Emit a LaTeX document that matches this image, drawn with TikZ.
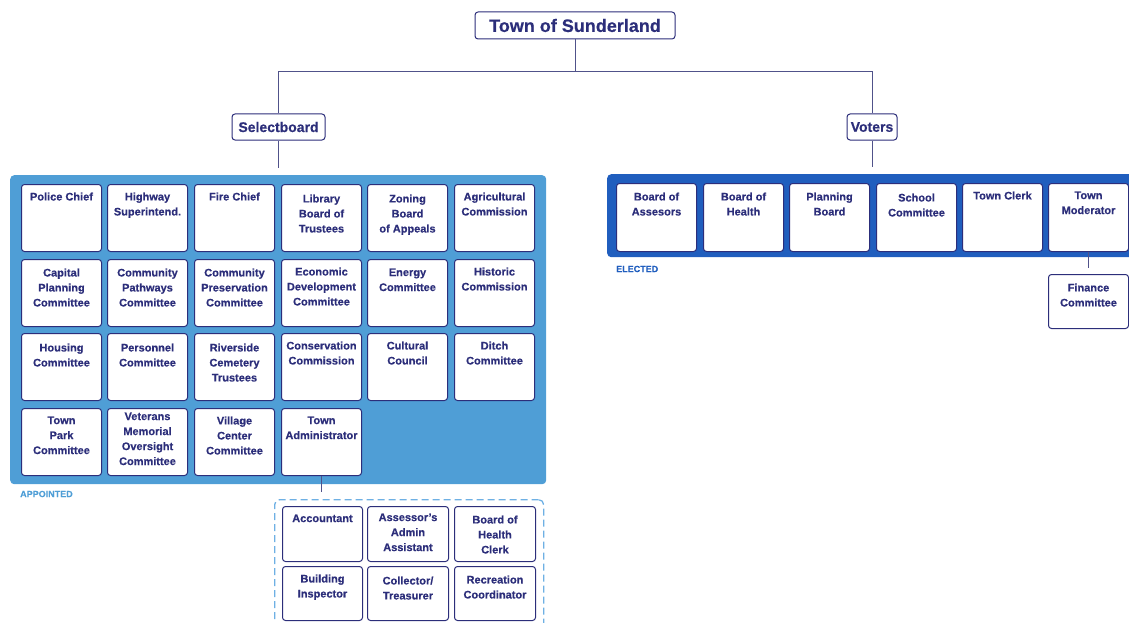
\documentclass[tikz,border=0pt]{standalone}
\usepackage{fontspec}
\setmainfont{Liberation Sans}[BoldFeatures={FakeBold=0.4}]
\definecolor{navy}{RGB}{44,46,122}
\definecolor{linegray}{RGB}{80,82,138}
\definecolor{appblue}{RGB}{79,158,214}
\definecolor{elecblue}{RGB}{32,94,190}
\definecolor{dashblue}{RGB}{110,176,228}

% Cell contents: fixed-size parbox with top-aligned, centred lines
\newcommand{\cellbox}[4][8pt]{\parbox[c][#3][t]{#2}{\centering\vspace*{#1}#4\par}}

\tikzset{
  cell/.style={draw=navy, line width=1pt, fill=white, rounded corners=3pt,
    inner sep=0pt, anchor=north west, text=navy,
    font=\fontsize{11}{15}\selectfont\bfseries},
  headbox/.style={draw=navy, line width=1pt, fill=white, rounded corners=3pt,
    inner sep=0pt, text=navy, font=\bfseries},
  panel/.style={draw=none, rounded corners=4pt, anchor=north west, inner sep=0pt},
  conn/.style={draw=linegray, line width=1pt},
  tag/.style={anchor=west, inner sep=0pt, font=\fontsize{9}{10}\selectfont\bfseries},
}

\begin{document}
\begin{tikzpicture}[x=1pt, y=-1pt]
\useasboundingbox (0,0) rectangle (1129,623);
\clip (0,0) rectangle (1129,623);

% ---- top levels ----
\node[headbox, minimum width=200pt, minimum height=27pt, font=\fontsize{18}{20}\selectfont\bfseries]
  (title) at (575,25.5) {Town of Sunderland};
\node[headbox, minimum width=93pt, minimum height=26pt, font=\fontsize{14}{16}\selectfont\bfseries]
  (select) at (278.5,127) {Selectboard};
\node[headbox, minimum width=50pt, minimum height=26pt, font=\fontsize{14}{16}\selectfont\bfseries]
  (voters) at (872,127) {Voters};

\coordinate (bus) at (575,72);
\draw[conn] (title.south) -- (bus);
\draw[conn] (bus) -| (select.north);
\draw[conn] (bus) -| (voters.north);

% ---- appointed panel ----
\node[panel, fill=appblue, minimum width=536pt, minimum height=309pt] (appointed) at (10,175) {};
\node[tag, text=appblue] (applabel) at (20,494) {APPOINTED};

\node[cell] (police)   at (21,184)  {\cellbox{80pt}{67pt}{Police Chief}};
\node[cell] (highway)  at (107,184) {\cellbox{80pt}{67pt}{Highway\\Superintend.}};
\node[cell] (fire)     at (194,184) {\cellbox{80pt}{67pt}{Fire Chief}};
\node[cell] (library)  at (281,184) {\cellbox[10pt]{80pt}{67pt}{Library\\Board of\\Trustees}};
\node[cell] (zoning)   at (367,184) {\cellbox[10pt]{80pt}{67pt}{Zoning\\Board\\of Appeals}};
\node[cell] (agri)     at (454,184) {\cellbox{80pt}{67pt}{Agricultural\\Commission}};

\node[cell] (capital)      at (21,259)  {\cellbox[9pt]{80pt}{67pt}{Capital\\Planning\\Committee}};
\node[cell] (pathways)     at (107,259) {\cellbox[9pt]{80pt}{67pt}{Community\\Pathways\\Committee}};
\node[cell] (preservation) at (194,259) {\cellbox[9pt]{80pt}{67pt}{Community\\Preservation\\Committee}};
\node[cell] (econ)         at (281,259) {\cellbox{80pt}{67pt}{Economic\\Development\\Committee}};
\node[cell] (energy)       at (367,259) {\cellbox[9pt]{80pt}{67pt}{Energy\\Committee}};
\node[cell] (historic)     at (454,259) {\cellbox{80pt}{67pt}{Historic\\Commission}};

\node[cell] (housing)      at (21,333)  {\cellbox[10pt]{80pt}{67pt}{Housing\\Committee}};
\node[cell] (personnel)    at (107,333) {\cellbox[10pt]{80pt}{67pt}{Personnel\\Committee}};
\node[cell] (riverside)    at (194,333) {\cellbox[10pt]{80pt}{67pt}{Riverside\\Cemetery\\Trustees}};
\node[cell] (conservation) at (281,333) {\cellbox{80pt}{67pt}{Conservation\\Commission}};
\node[cell] (cultural)     at (367,333) {\cellbox{80pt}{67pt}{Cultural\\Council}};
\node[cell] (ditch)        at (454,333) {\cellbox{80pt}{67pt}{Ditch\\Committee}};

\node[cell] (townpark) at (21,408)  {\cellbox{80pt}{67pt}{Town\\Park\\Committee}};
\node[cell] (veterans) at (107,408) {\cellbox[4pt]{80pt}{67pt}{Veterans\\Memorial\\Oversight\\Committee}};
\node[cell] (village)  at (194,408) {\cellbox{80pt}{67pt}{Village\\Center\\Committee}};
\node[cell] (admin)    at (281,408) {\cellbox{80pt}{67pt}{Town\\Administrator}};

\draw[conn, shorten >=7pt] (select.south) -- (select.south |- appointed.north);

% ---- staff under the Town Administrator ----
\node[panel, draw=dashblue, line width=1.3pt, dash pattern=on 7pt off 4pt,
  rounded corners=5pt, minimum width=269pt, minimum height=141pt] (staff) at (274,499) {};
\draw[conn, shorten >=7pt] (admin.south) -- (admin.south |- staff.north);

\node[cell] (accountant) at (282,506) {\cellbox{80pt}{55pt}{Accountant}};
\node[cell] (assessor)   at (367,506) {\cellbox[7pt]{81pt}{55pt}{Assessor's\\Admin\\Assistant}};
\node[cell] (bohclerk)   at (454,506) {\cellbox[9pt]{81pt}{55pt}{Board of\\Health\\Clerk}};
\node[cell] (building)   at (282,566) {\cellbox{80pt}{54pt}{Building\\Inspector}};
\node[cell] (collector)  at (367,566) {\cellbox[10pt]{81pt}{54pt}{Collector/\\Treasurer}};
\node[cell] (recreation) at (454,566) {\cellbox[9pt]{81pt}{54pt}{Recreation\\Coordinator}};

% ---- elected panel ----
\node[panel, fill=elecblue, minimum width=530pt, minimum height=83pt] (elected) at (607,174) {};
\node[tag, text=elecblue] (eleclabel) at (616,269) {ELECTED};
\draw[conn, shorten >=7pt] (voters.south) -- (voters.south |- elected.north);

\node[cell] (assessors) at (616,183)  {\cellbox[9pt]{80pt}{68pt}{Board of\\Assesors}};
\node[cell] (boh)       at (703,183)  {\cellbox[9pt]{80pt}{68pt}{Board of\\Health}};
\node[cell] (planning)  at (789,183)  {\cellbox[9pt]{80pt}{68pt}{Planning\\Board}};
\node[cell] (school)    at (876,183)  {\cellbox[10pt]{80pt}{68pt}{School\\Committee}};
\node[cell] (clerk)     at (962,183)  {\cellbox{80pt}{68pt}{Town Clerk}};
\node[cell] (moderator) at (1048,183) {\cellbox{80pt}{68pt}{Town\\Moderator}};

\node[cell] (finance) at (1048,274) {\cellbox[9pt]{80pt}{54pt}{Finance\\Committee}};
\draw[conn, shorten >=6pt] (moderator.south) -- (finance.north);
\end{tikzpicture}
\end{document}
